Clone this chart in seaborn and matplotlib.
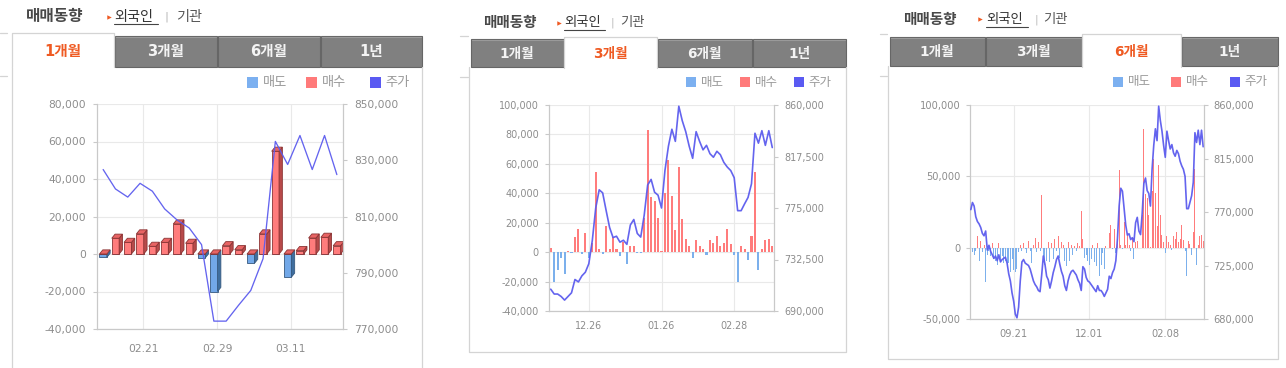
import matplotlib

matplotlib.use("Agg")
import matplotlib.pyplot as plt
import numpy as np
import pandas as pd
import seaborn as sns
from matplotlib.patches import Rectangle
from matplotlib.ticker import FuncFormatter

W, H = 1286, 368

# KRX trading calendar, Aug 2023 .. Mar 2024
KRX_HOLIDAYS = ["2023-09-28", "2023-09-29", "2023-10-02", "2023-10-03", "2023-10-09",
                "2023-12-25", "2023-12-29", "2024-01-01", "2024-02-09", "2024-02-12", "2024-03-01"]
TRADE_DAYS = pd.bdate_range("2023-08-16", "2024-03-15", freq="C", holidays=KRX_HOLIDAYS)

# foreign net buying, thousand shares (6M chart, then 3M chart, then 1M chart)
net_aug_dec = [5, -3, -5, -2, 8, -9, 5, -3, 2, -24, -5, -2, -6, 3, -8, -9, -12, 3, -10, -6,
               -11, -9, -14, -11, -17, -8, -16, -17, -15, -3, 2, -2, 3, -1, -4, 5, -2, -11, 2, 7,
               -3, 4, -2, 37, -6, -12, -9, 4, -10, 3, -8, 6, -2, 8, -7, 4, 2, -9, -13, 4,
               -9, 2, -5, 1, -2, 3, 1, 26, 6, -7, -5, -9, -12, -8, 2, -10, -13]
net_dec_feb = [3, -20, -12, -4, -15, 1, -0.5, 10, 16, -1, 13, -4, 6, 54.5, 2, -1, 18, 2, 10, 2,
               -2.5, 7, -8, 4, 4.5, -0.5, -0.5, 23, 83, 37.5, 35, 23, 0.5, 40, 62.5, 38, 15, 58, 22.7, 9,
               4, -4, 8, 4, 2]
net_feb_mar = [-1.8, 8.4, 6.2, 10.7, 4.1, 6.2, 16, 5.7, -2.1, -20, 4.4, 2.3, -5, 10.7, 54.8, -12.4,
               1.8, 8.5, 8.9, 4.4]

# closing price, thousand KRW
close_aug_dec = [772, 778, 775, 766, 762, 760, 757, 752, 750, 754, 738, 742, 737, 734, 731, 733, 729, 734,
                 728, 730, 731, 732, 727, 718, 712, 702, 695, 684, 681, 690, 712, 728, 730, 727, 726, 725,
                 722, 717, 712, 709, 707, 704, 703, 717, 733, 726, 716, 713, 706, 712, 719, 724, 730, 733,
                 726, 720, 716, 708, 704, 712, 717, 720, 721, 719, 717, 713, 710, 704, 724, 722, 715, 712,
                 711, 709, 707, 705, 703]
close_dec_feb = [708, 704, 704, 702, 699, 702, 705, 716, 714, 719, 722, 729, 748, 775, 790, 787.5, 773, 759,
                 750.6, 751.7, 746.8, 748.4, 745, 761, 765.5, 754, 751, 769, 794, 798.6, 788, 785.6, 775,
                 806, 826, 840, 830, 859, 847, 838, 826, 816, 838, 830, 823]
close_feb_mar = [826.7, 819.8, 816.9, 821.8, 819, 812.7, 808.8, 805.9, 800, 772.8, 772.8, 778.4, 783.7,
                 795, 836.7, 828.5, 838.8, 826.7, 838.8, 824.9]

TABS = ["1개월", "3개월", "6개월", "1년"]
LEGEND = ["매도", "매수", "주가"]
PERIOD_DAYS = [20, 65, 142]
XTICK_DATES = [["2024-02-21", "2024-02-29", "2024-03-11"],
               ["2023-12-26", "2024-01-26", "2024-02-28"],
               ["2023-09-21", "2023-12-01", "2024-02-08"]]
LEFT_TICKS = [[-40, -20, 0, 20, 40, 60, 80],
              [-40, -20, 0, 20, 40, 60, 80, 100],
              [-50, 0, 50, 100]]
RIGHT_TICKS = [[770, 790, 810, 830, 850],
               [690, 732.5, 775, 817.5, 860],
               [680, 725, 770, 815, 860]]

RED, BLUE, LINE = "#ff7c7c", "#7cb0ec", "#5c5cee"
LEG_COLORS = ["#7cb0f0", "#ff7a7a", "#5a5af2"]
FRAME, TAB_GRAY, TAB_EDGE, ORANGE = "#d4d4d4", "#808080", "#666666", "#ef5a22"
GRID, SPINE, LABEL = "#e9e9e9", "#c9c9c9", "#8c8c8c"

# pixel layout of the three widgets (origin top-left)
LAYOUTS = [
    dict(box=(12, 422, 380), tabs=(12, 114, 217, 320, 422), tab_top=35.5, tab_bot=66.7, active_top=33,
         tab_y=51.7, tab_fs=10.5, title=(26, 16.7, 11.3), sub=(109, 114, 44, 166, 176, 10.2),
         legend=((247, 306, 370), 82.7, 11, 9.5), frag=(0, 7, 33, 76),
         axes=(97, 104, 343, 329), fs=7.7, pads=(5, 5, 8)),
    dict(box=(469, 846, 352), tabs=(470, 564, 657, 752, 846), tab_top=39, tab_bot=67, active_top=37,
         tab_y=54.3, tab_fs=9.8, title=(483, 22.7, 10.5), sub=(559, 564, 41, 612, 620, 9.6),
         legend=((686, 740, 794), 82.3, 10, 9), frag=(460, 468, 36, 76.7),
         axes=(549, 105, 774, 311), fs=6.9, pads=(4.3, 4.3, 4)),
    dict(box=(888, 1278, 359), tabs=(889, 985, 1082, 1181, 1278), tab_top=37, tab_bot=66, active_top=34,
         tab_y=51.7, tab_fs=9.8, title=(903, 19.3, 10.5), sub=(980, 986, 42, 1036, 1043, 9.6),
         legend=((1113, 1171, 1230), 81.7, 10, 9), frag=(880, 887, 34, 76),
         axes=(970, 105, 1204, 319), fs=7.1, pads=(3.6, 3.6, 4.3)),
]

df = pd.DataFrame({
    "date": TRADE_DAYS,
    "net": net_aug_dec + net_dec_feb + net_feb_mar,
    "close": close_aug_dec + close_dec_feb + close_feb_mar,
})
df["buy"] = df["net"].clip(lower=0)
df["sell"] = df["net"].clip(upper=0)
df["label"] = df["date"].dt.strftime("%Y-%m-%d")

thousands = FuncFormatter(lambda v, _: f"{v * 1000:,.0f}")


def px_rect(x0, y0, x1, y1):
    return [x0 / W, 1 - y1 / H, (x1 - x0) / W, (y1 - y0) / H]


def draw_frame(bg, lay, active):
    x0, x1, yb = lay["box"]
    tb, tt, at = lay["tab_bot"], lay["tab_top"], lay["active_top"]
    bg.plot([x0, x0, x1, x1], [tb, yb, yb, tb], color=FRAME, lw=0.9)
    fx0, fx1, fy0, fy1 = lay["frag"]
    for fy in (fy0, fy1):
        bg.plot([fx0, fx1], [fy, fy], color=FRAME, lw=0.9)
    edges = lay["tabs"]
    for k, label in enumerate(TABS):
        a, b = edges[k], edges[k + 1]
        if k == active:
            bg.add_patch(Rectangle((a, at), b - a, tb - at + 1, fc="white", ec="none", zorder=2))
            bg.plot([a, a, b, b], [tb + 0.5, at, at, tb + 0.5], color=FRAME, lw=0.9, zorder=3)
            color = ORANGE
        else:
            bg.add_patch(Rectangle((a + 0.5, tt), b - a - 1, tb - tt, fc=TAB_GRAY, ec=TAB_EDGE, lw=0.8))
            bg.plot([a + 1.5, b - 1.5], [tt + 1.2, tt + 1.2], color="#9a9a9a", lw=0.8)
            color = "#f4f4f4"
        bg.text((a + b) / 2, lay["tab_y"], label, ha="center", va="center", fontsize=lay["tab_fs"],
                fontweight="bold", color=color, zorder=4)

    tx, ty, tfs = lay["title"]
    bg.text(tx, ty, "매매동향", ha="left", va="center", fontsize=tfs, fontweight="bold", color="#484848")
    tri, fx, fw, sep, gx, sfs = lay["sub"]
    bg.plot([tri], [ty], marker=">", ms=3.2, color=ORANGE, mec="none")
    bg.text(fx, ty, "외국인", ha="left", va="center", fontsize=sfs, color="#333333")
    bg.plot([fx, fx + fw], [ty + 7.5, ty + 7.5], color="#444444", lw=0.8)
    bg.text(sep, ty, "|", ha="center", va="center", fontsize=sfs * 0.8, color="#bbbbbb")
    bg.text(gx, ty, "기관", ha="left", va="center", fontsize=sfs, color="#555555")

    xs, ly, sq, lfs = lay["legend"]
    for x, name, c in zip(xs, LEGEND, LEG_COLORS):
        bg.add_patch(Rectangle((x, ly - sq / 2), sq, sq, fc=c, ec="none"))
        bg.text(x + sq + 4.5, ly, name, ha="left", va="center", fontsize=lfs, color="#999999")


def bars_3d(ax, sub):
    w, dx, dy = 0.6, 0.27, 2.2
    kw = dict(width=w, saturation=1, errorbar=None, ax=ax)
    sns.barplot(data=sub, x="label", y="sell", color="#72a8e8", edgecolor="#36597f", linewidth=0.6, **kw)
    for i, v in enumerate(sub["sell"]):
        if v < 0:
            xr = i + w / 2
            ax.fill([xr, xr + dx, xr + dx, xr], [v, v + dy, dy, 0], fc="#3f6e9e", ec="#36597f", lw=0.6)
    sns.barplot(data=sub, x="label", y="buy", color=RED, edgecolor="#8a3434", linewidth=0.6, **kw)
    for i, v in enumerate(sub["buy"]):
        xl, xr = i - w / 2, i + w / 2
        if v > 0:
            ax.fill([xr, xr + dx, xr + dx, xr], [0, dy, v + dy, v], fc="#b84a4a", ec="#8a3434", lw=0.6)
        ax.fill([xl, xl + dx, xr + dx, xr], [v, v + dy, v + dy, v], fc="#e86464", ec="#8a3434", lw=0.6)
    return dx


def draw_chart(fig, k, lay):
    sub = df.iloc[-PERIOD_DAYS[k]:].reset_index(drop=True)
    n = len(sub)
    ax = fig.add_axes(px_rect(*lay["axes"]), zorder=2)
    ax.set_facecolor("white")
    shift = 0.0
    if k == 0:
        shift = bars_3d(ax, sub)
    else:
        kw = dict(width=0.6, saturation=1, errorbar=None, linewidth=0, ax=ax)
        sns.barplot(data=sub, x="label", y="buy", color=RED, **kw)
        sns.barplot(data=sub, x="label", y="sell", color=BLUE, **kw)

    ax2 = ax.twinx()
    ax2.set_zorder(3)
    ax2.patch.set_visible(False)
    sns.lineplot(x=np.arange(n), y=sub["close"].to_numpy(), ax=ax2, color=LINE, sort=False,
                 estimator=None, legend=False, linewidth=0.95 if k == 0 else 1.2, alpha=0.95)

    labels = list(sub["label"])
    ticks = [labels.index(d) + shift for d in XTICK_DATES[k]]
    ax.set_xticks(ticks)
    ax.set_xticklabels([d[5:].replace("-", ".") for d in XTICK_DATES[k]])
    ax.set_xlim(-0.5, n - 0.5)

    ax.set_ylim(LEFT_TICKS[k][0], LEFT_TICKS[k][-1])
    ax.set_yticks(LEFT_TICKS[k])
    ax.yaxis.set_major_formatter(thousands)
    ax2.set_ylim(RIGHT_TICKS[k][0], RIGHT_TICKS[k][-1])
    ax2.set_yticks(RIGHT_TICKS[k])
    ax2.yaxis.set_major_formatter(thousands)

    pl, pr, pb = lay["pads"]
    ax.tick_params(axis="y", length=3, width=0.8, color=SPINE, labelcolor=LABEL, labelsize=lay["fs"], pad=pl)
    ax.tick_params(axis="x", length=3, width=0.8, color=SPINE, labelcolor=LABEL, labelsize=lay["fs"], pad=pb)
    ax2.tick_params(axis="y", length=3, width=0.8, color=SPINE, labelcolor=LABEL, labelsize=lay["fs"], pad=pr)
    for a in (ax, ax2):
        a.set_xlabel("")
        a.set_ylabel("")
        for s in a.spines.values():
            s.set_color(SPINE)
            s.set_linewidth(0.9)
        a.spines["top"].set_visible(False)
    ax.spines["right"].set_visible(False)
    ax2.spines["left"].set_visible(False)
    ax2.spines["bottom"].set_visible(False)
    ax.set_axisbelow(True)
    ax.grid(True, axis="both", color=GRID, linewidth=0.8)
    ax2.grid(False)


sns.set_style("white")
plt.rcParams["font.family"] = ["DejaVu Sans", "Noto Sans CJK KR"]
plt.rcParams["axes.unicode_minus"] = False

fig = plt.figure(figsize=(W / 100, H / 100), dpi=100)
bg = fig.add_axes([0, 0, 1, 1], zorder=0)
bg.set_xlim(0, W)
bg.set_ylim(H, 0)
bg.axis("off")

for k, lay in enumerate(LAYOUTS):
    draw_frame(bg, lay, k)
    draw_chart(fig, k, lay)

fig.savefig("out.png", dpi=100, facecolor="white")
